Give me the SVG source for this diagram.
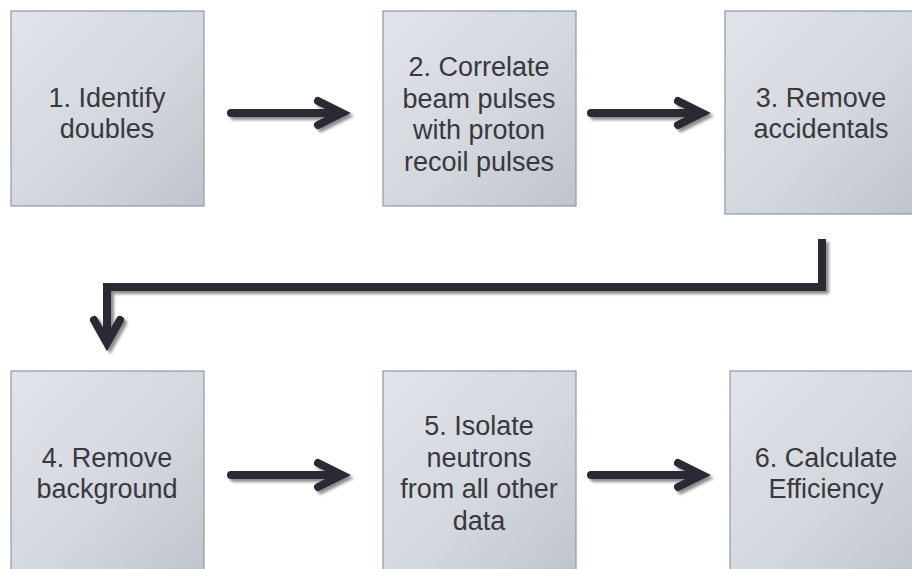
<svg xmlns="http://www.w3.org/2000/svg" width="912" height="569" viewBox="0 0 912 569">
  <defs>
    <linearGradient id="boxFill" x1="0" y1="0" x2="1" y2="1">
      <stop offset="0" stop-color="#e1e4ea"/>
      <stop offset="0.55" stop-color="#d3d7de"/>
      <stop offset="1" stop-color="#bfc3cb"/>
    </linearGradient>
    <filter id="shadow" x="-10%" y="-30%" width="130%" height="180%">
      <feGaussianBlur in="SourceAlpha" stdDeviation="1.8"/>
      <feOffset dx="3" dy="3" result="blur"/>
      <feFlood flood-color="#000" flood-opacity="0.45"/>
      <feComposite in2="blur" operator="in"/>
      <feMerge>
        <feMergeNode/>
        <feMergeNode in="SourceGraphic"/>
      </feMerge>
    </filter>
  </defs>
  <style>
    .box { fill: url(#boxFill); stroke: #8e98a8; stroke-width: 1.2; }
    .label { font-family: "Liberation Sans", Arial, sans-serif; font-size: 27px; fill: #38383d; text-anchor: middle; }
    .arrow { fill: none; stroke: #2a2a36; stroke-width: 8; stroke-linecap: round; stroke-linejoin: miter; }
    .elbow { fill: none; stroke: #2a2a36; stroke-width: 8; stroke-linecap: butt; stroke-linejoin: miter; }
  </style>
  <rect width="912" height="569" fill="#ffffff"/>

  <g id="step1">
    <rect class="box" x="11" y="11" width="193" height="195"/>
    <text class="label" x="107" y="107">1. Identify</text>
    <text class="label" x="107" y="138">doubles</text>
  </g>

  <g id="step2">
    <rect class="box" x="383" y="11" width="193" height="195"/>
    <text class="label" x="479" y="76">2. Correlate</text>
    <text class="label" x="479" y="107.5">beam pulses</text>
    <text class="label" x="479" y="139">with proton</text>
    <text class="label" x="479" y="170.5">recoil pulses</text>
  </g>

  <g id="step3">
    <rect class="box" x="725" y="11" width="193" height="203"/>
    <text class="label" x="821" y="107">3. Remove</text>
    <text class="label" x="821" y="138">accidentals</text>
  </g>

  <g id="step4">
    <rect class="box" x="11" y="371" width="193" height="210"/>
    <text class="label" x="107" y="467">4. Remove</text>
    <text class="label" x="107" y="498">background</text>
  </g>

  <g id="step5">
    <rect class="box" x="383" y="371" width="193" height="210"/>
    <text class="label" x="479" y="435">5. Isolate</text>
    <text class="label" x="479" y="466.5">neutrons</text>
    <text class="label" x="479" y="498">from all other</text>
    <text class="label" x="479" y="529.5">data</text>
  </g>

  <g id="step6">
    <rect class="box" x="730" y="371" width="193" height="210"/>
    <text class="label" x="826" y="467">6. Calculate</text>
    <text class="label" x="826" y="498">Efficiency</text>
  </g>

  <g id="connectors" filter="url(#shadow)">
    <!-- 1 -> 2 -->
    <path class="arrow" d="M231 113 H340 M318 101 L342 113 L318 125"/>
    <!-- 2 -> 3 -->
    <path class="arrow" d="M591 113 H700 M678 101 L702 113 L678 125"/>
    <!-- 3 -> 4 elbow -->
    <path class="elbow" d="M822 239 V287 H107 V340"/>
    <path class="arrow" d="M94 320 L107 343 L120 320"/>
    <!-- 4 -> 5 -->
    <path class="arrow" d="M231 475 H340 M318 463 L342 475 L318 487"/>
    <!-- 5 -> 6 -->
    <path class="arrow" d="M591 475 H700 M678 463 L702 475 L678 487"/>
  </g>
</svg>
